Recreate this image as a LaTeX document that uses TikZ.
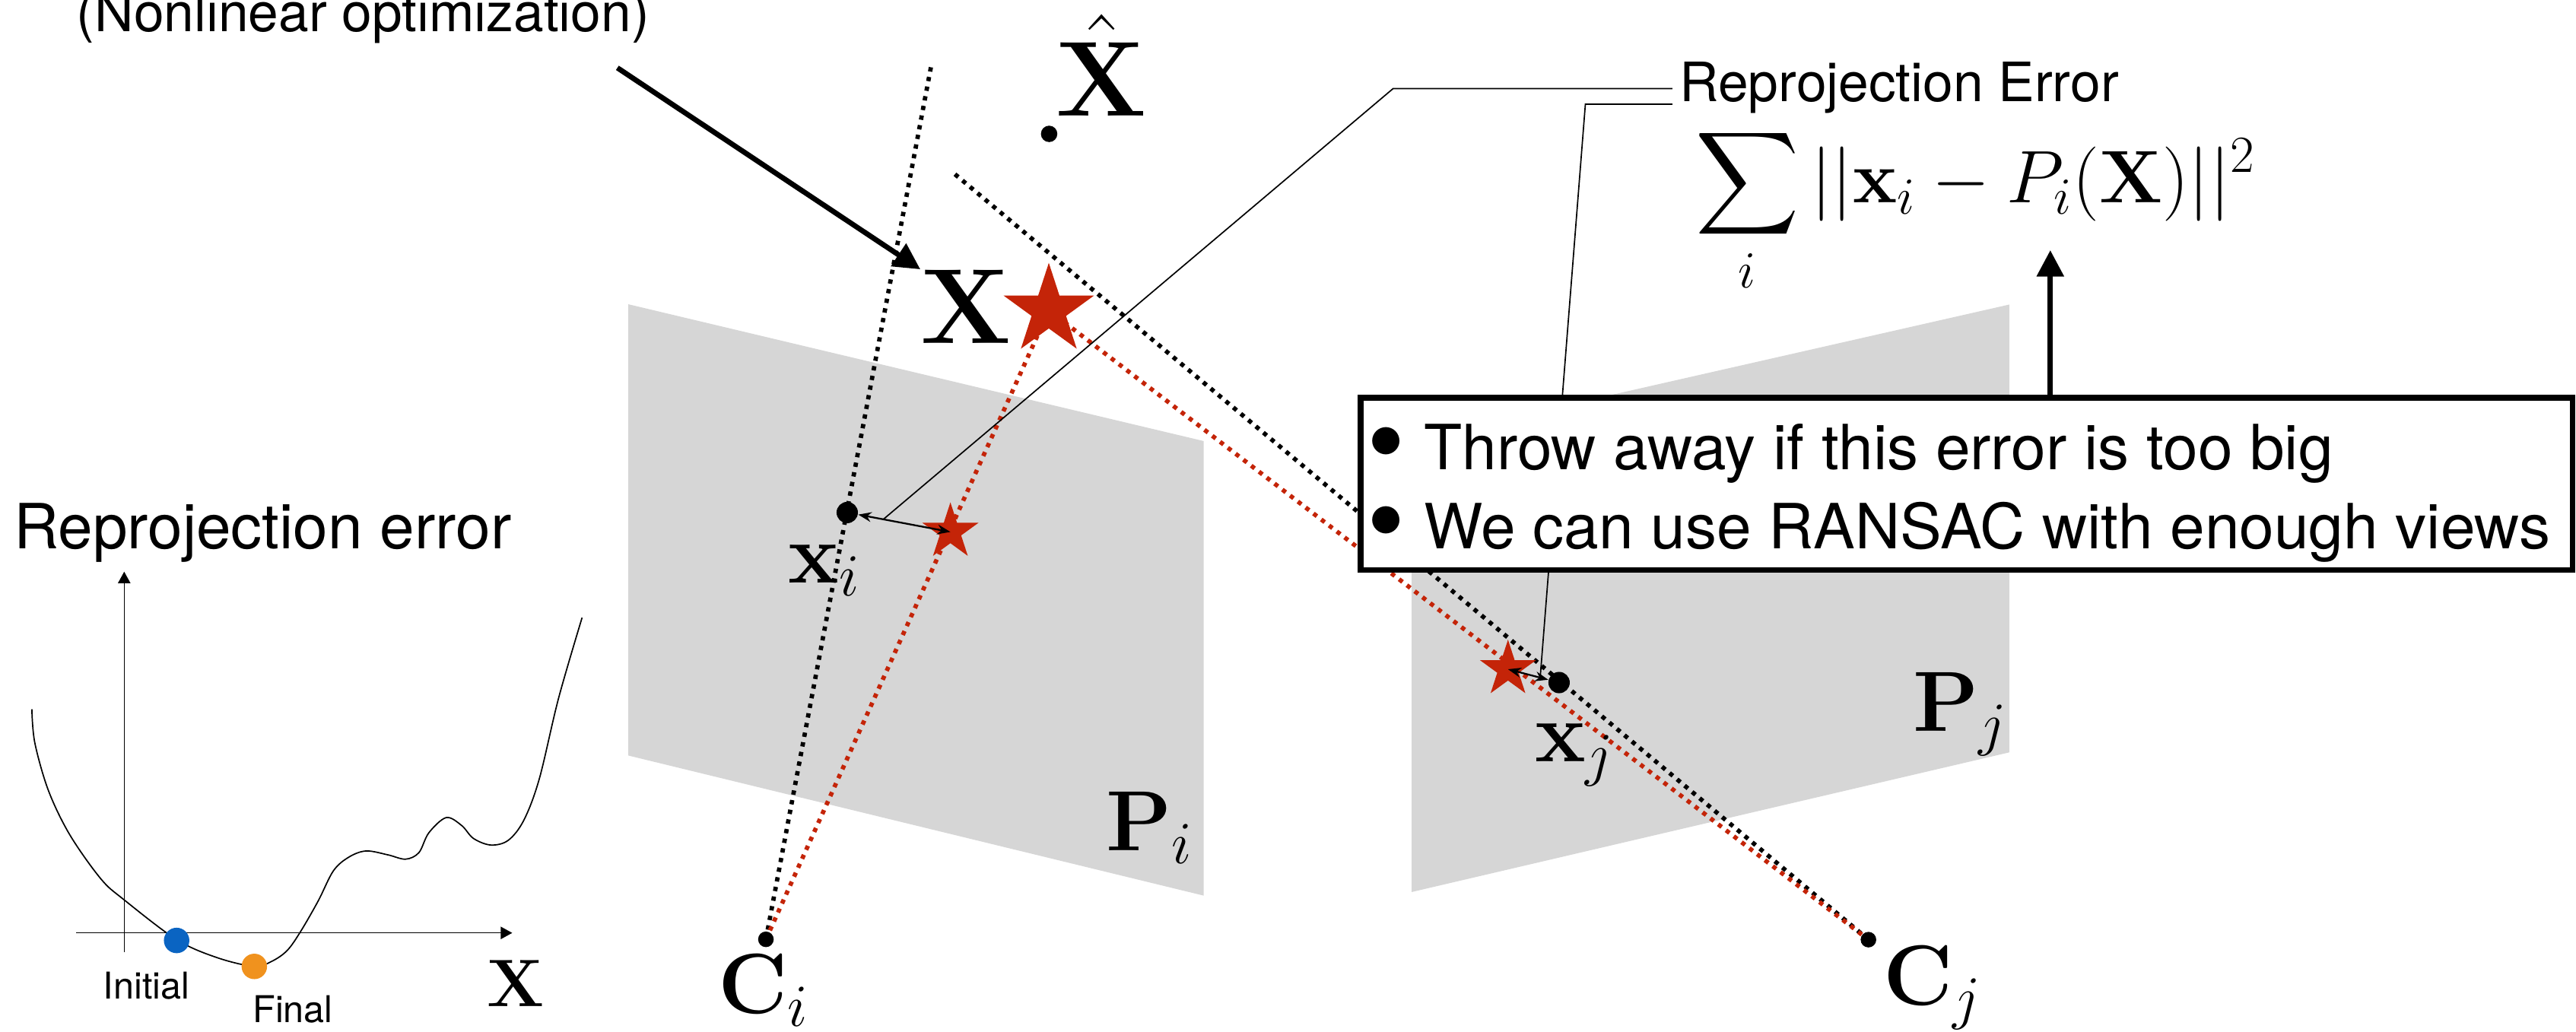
\documentclass[tikz,border=0pt]{standalone}
\usepackage{fix-cm}
\usepackage[no-math]{fontspec}
\setmainfont{TeX Gyre Heros}
\usepackage{amsmath}
\usetikzlibrary{arrows.meta, positioning, shapes.geometric, calc}
\pgfdeclarelayer{background}
\pgfsetlayers{background,main}
\definecolor{planegray}{RGB}{214,214,214}
\definecolor{starred}{RGB}{196,36,8}
\definecolor{initblue}{RGB}{10,100,194}
\definecolor{finalorange}{RGB}{240,146,30}
\newcommand{\boxbullet}{\makebox[0.272cm][c]{\smash{\raisebox{-3.1pt}{\scalebox{1.75}{\textbullet}}}}\hspace{0.326cm}}

\begin{document}
\begin{tikzpicture}[x=0.02cm, y=-0.02cm,
    plane/.style={fill=planegray},
    ray/.style={line width=1.5pt, dash pattern=on 1.5pt off 1.9pt},
    redray/.style={ray, draw=starred},
    dotpt/.style={circle, fill=black, inner sep=0pt, minimum size=0.26cm},
    camdot/.style={dotpt, minimum size=0.19cm},
    plotdot/.style={circle, inner sep=0pt, minimum size=0.31cm},
    redstar/.style={star, star points=5, star point ratio=2.618, fill=starred, inner sep=0pt, minimum size=0.72cm},
    lbl/.style={inner sep=0pt, anchor=base west, font=\fontsize{29.6}{34}\selectfont},
    biglbl/.style={lbl, font=\fontsize{37}{42}\selectfont},
    txt/.style={inner sep=0pt, anchor=base west, font=\fontsize{21.6}{26}\selectfont},
    smalltxt/.style={txt, font=\fontsize{18.8}{22}\selectfont},
    plottxt/.style={txt, font=\fontsize{12.8}{15}\selectfont},
    callout/.style={draw, line width=0.45pt},
    bigarrow/.style={draw, line width=1.8pt, -{Triangle[length=0.32cm, width=0.32cm]}},
    errarrow/.style={draw, line width=0.6pt, arrows={Stealth[length=0.16cm, width=0.12cm]-Stealth[length=0.16cm, width=0.12cm]}},
    plotaxis/.style={draw, line width=0.4pt, -{Triangle[length=0.14cm, width=0.15cm]}},
    infobox/.style={draw, line width=2pt, fill=white, inner sep=0pt, outer sep=0pt},
]
    \useasboundingbox (0,0) rectangle (1568,628);

    % Points, cameras and stars
    \node[dotpt, minimum size=0.2cm] (xhat) at (638.6,81.5) {};
    \node[dotpt] (xi) at (515.7,312) {};
    \node[dotpt] (xj) at (949,415.5) {};
    \node[camdot] (ci) at (466.2,571.8) {};
    \node[camdot] (cj) at (1137.3,572) {};
    \node[redstar, minimum size=1.156cm] (sx) at (638.4,188.9) {};
    \node[redstar] (si) at (578.5,323.8) {};
    \node[redstar] (sj) at (917.9,407.4) {};
    \coordinate (topi) at (566.7,40.6);
    \coordinate (topj) at (580,105);

    % Image planes and rays
    \begin{pgfonlayer}{background}
        \fill[plane] (382.4,185.2) -- (732.7,268.5) -- (732.7,545.2) -- (382.4,459.9) -- cycle;
        \fill[plane] (859.3,268) -- (1223,185.4) -- (1223,458) -- (859.3,543) -- cycle;
        \draw[ray] (ci.center) -- (topi);
        \draw[ray] (cj.center) -- (topj);
        \draw[redray] (ci.center) -- (sx.center);
        \draw[redray] (sx.center) -- (cj.center);
    \end{pgfonlayer}

    % Reprojection offsets
    \draw[errarrow] (xi) -- (si.center);
    \draw[errarrow] (xj) -- (sj.center);
    \coordinate (mi) at ($(xi.center)!0.35!(si.center)$);
    \coordinate (mj) at ($(xj.center)!0.37!(sj.center)$);

    % Labels
    \node[biglbl] (xbig) at (560.2,208.9) {$\mathbf{X}$};
    \node[biglbl] (xhatlbl) at (642.6,70.7) {$\hat{\mathbf{X}}$};
    \node[lbl] (xilbl) at (479.6,355) {$\mathbf{x}_i$};
    \node[lbl] (xjlbl) at (934,463.5) {$\mathbf{x}_j$};
    \node[lbl] (cilbl) at (436.8,617) {$\mathbf{C}_i$};
    \node[lbl] (cjlbl) at (1146,612) {$\mathbf{C}_j$};
    \node[lbl] (pilbl) at (673,518) {$\mathbf{P}_i$};
    \node[lbl] (pjlbl) at (1164,445) {$\mathbf{P}_j$};

    % Optimization arrow
    \node[smalltxt] (optlbl) at (46.3,19.3) {(Nonlinear optimization)};
    \coordinate (optfoot) at (375.8,41.3);
    \draw[bigarrow] (optfoot) -- (xbig.north west);

    % Error term
    \node[smalltxt] (errlbl) at (1022,61.9) {Reprojection Error};
    \node[inner sep=0pt, anchor=base west, font=\fontsize{25.8}{30}\selectfont] (errsum) at (1031.6,123.4)
        {$\displaystyle\sum_i ||\mathbf{x}_i - P_i(\mathbf{X})||^2$};
    \draw[callout] ([xshift=-0.08cm, yshift=0.16cm]errlbl.base west) -- ++(-170,0) -- (mi);
    \draw[callout] ([xshift=-0.08cm, yshift=-0.03cm]errlbl.base west) -- ++(-53,0) -- (mj);

    % Outlier box
    \node[infobox, anchor=north west, minimum width=14.756cm, minimum height=2.1cm] (verdict) at (828.2,242) {};
    \node[txt] (rule1) at (836.6,285.8) {\boxbullet Throw away if this error is too big};
    \node[txt] (rule2) at (836.6,334.1) {\boxbullet We can use RANSAC with enough views};
    \coordinate (sumfoot) at (1248,152.3);
    \draw[bigarrow] (verdict.north -| sumfoot) -- (sumfoot);

    % Error curve
    \coordinate (xaxl) at (46.5,567.9);
    \coordinate (xaxr) at (311.8,567.9);
    \coordinate (yaxb) at (75.6,579.6);
    \coordinate (yaxt) at (75.6,348);
    \draw[plotaxis] (xaxl) -- (xaxr);
    \draw[plotaxis] (yaxb) -- (yaxt);
    \draw[line width=0.45pt] plot[smooth, tension=0.55] coordinates {
        (19.4,431.8) (21.2,452.2) (29.5,481.3) (42.5,508.2) (61.4,535) (75.6,547.8)
        (107.5,572) (132.3,583) (154.8,588.3) (165.4,585.2) (174.8,578.6) (183,567)
        (193.7,548.4) (203,530) (212.6,521.6) (223,518) (236.2,520.4) (246.9,523)
        (255,519) (261,507) (271.6,497.7) (281,502.5) (288.2,510.4) (298.8,514.4)
        (309.4,511.5) (318.9,499.2) (328.3,474) (340,425) (354.3,376)};
    \node[plotdot, fill=initblue] (init) at (107.5,572.5) {};
    \node[plotdot, fill=finalorange] (final) at (154.8,588.3) {};
    \node[plottxt] (initlbl) at (62.6,608.3) {Initial};
    \node[plottxt] (finallbl) at (153.5,622.2) {Final};
    \node[lbl, font=\fontsize{23.3}{27}\selectfont] (plotx) at (296,612.8) {$\mathbf{X}$};
    \node[txt] (ylbl) at (8,334) {Reprojection error};
\end{tikzpicture}
\end{document}
